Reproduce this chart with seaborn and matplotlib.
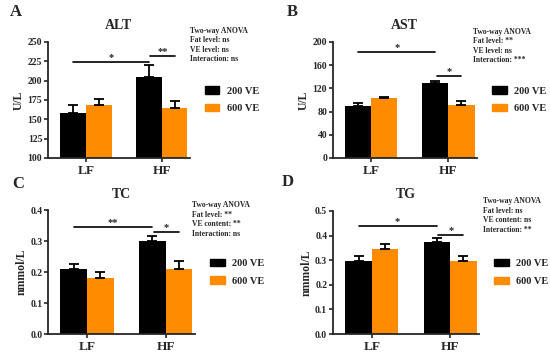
import numpy as np
import pandas as pd
import seaborn as sns
import matplotlib.pyplot as plt

# diet groups and VE dose
diets = ["LF", "HF"]
doses = ["200 VE", "600 VE"]

# ALT (U/L)
alt_200 = [158, 205]
alt_600 = [169, 164]
alt_200_err = [10, 15]
alt_600_err = [7, 9]

# AST (U/L)
ast_200 = [89, 129]
ast_600 = [103, 92]
ast_200_err = [6, 4]
ast_600_err = [2, 7]

# TC (nmmol/L)
tc_200 = [0.21, 0.302]
tc_600 = [0.18, 0.21]
tc_200_err = [0.017, 0.015]
tc_600_err = [0.02, 0.025]

# TG (nmmol/L)
tg_200 = [0.295, 0.373]
tg_600 = [0.345, 0.297]
tg_200_err = [0.023, 0.017]
tg_600_err = [0.02, 0.021]

anova_alt = "Two-way ANOVA\nFat level: ns\nVE level: ns\nInteraction: ns"
anova_ast = "Two-way ANOVA\nFat level: **\nVE level: ns\nInteraction: ***"
anova_tc = "Two-way ANOVA\nFat level: **\nVE content: **\nInteraction: ns"
anova_tg = "Two-way ANOVA\nFat level: ns\nVE content: ns\nInteraction: **"

sns.set_style("ticks")
plt.rcParams["font.family"] = ["Liberation Serif", "DejaVu Serif"]
plt.rcParams["font.weight"] = "bold"
plt.rcParams["axes.labelweight"] = "bold"
plt.rcParams["axes.titleweight"] = "bold"

palette = {"200 VE": "black", "600 VE": "#FF8C00"}


def draw_panel(ax, v200, v600, e200, e600, title, ylabel, ylim, yticks, fmt,
               anova, anova_xy, sig_long, sig_short):
    df = pd.DataFrame({
        "diet": diets * 2,
        "dose": [doses[0]] * 2 + [doses[1]] * 2,
        "value": v200 + v600,
    })
    sns.barplot(data=df, x="diet", y="value", hue="dose", order=diets,
                hue_order=doses, palette=palette, width=0.68, errorbar=None,
                saturation=1, legend=False, linewidth=0, ax=ax)
    # one-sided SEM bars
    centers = {}
    for cont, errs, dose in zip(ax.containers, [e200, e600], doses):
        xs = [b.get_x() + b.get_width() / 2 for b in cont]
        hs = [b.get_height() for b in cont]
        centers[dose] = xs
        ax.errorbar(xs, hs, yerr=[np.zeros(len(errs)), errs], fmt="none",
                    ecolor="black", elinewidth=1.3, capsize=3.4, capthick=1.3)

    # significance lines
    y_long, star_long = sig_long
    y_short, star_short = sig_short
    x0, x1 = centers["200 VE"][0], centers["200 VE"][1]
    ax.plot([x0, x1], [y_long, y_long], color="black", lw=1.2, clip_on=False)
    ax.text((x0 + x1) / 2, y_long, star_long, ha="center", va="bottom",
            fontsize=7.5)
    x2, x3 = centers["200 VE"][1] + 0.02, centers["600 VE"][1]
    ax.plot([x2, x3], [y_short, y_short], color="black", lw=1.2, clip_on=False)
    ax.text((x2 + x3) / 2, y_short, star_short, ha="center", va="bottom",
            fontsize=7.5)

    ax.set_xlim(-0.5, 1.37)
    ax.set_ylim(*ylim)
    ax.set_yticks(yticks)
    ax.set_yticklabels([fmt.format(t) for t in yticks], fontsize=7)
    ax.tick_params(axis="x", labelsize=9.5, length=3, width=1.2, pad=2)
    ax.tick_params(axis="y", length=3, width=1.2, pad=1)
    ax.set_xlabel("")
    ax.set_ylabel(ylabel, fontsize=8.5, labelpad=2)
    ax.set_title(title, fontsize=10, pad=9)
    for s in ["left", "bottom"]:
        ax.spines[s].set_linewidth(1.3)
    sns.despine(ax=ax)

    ax.text(anova_xy[0], anova_xy[1], anova, transform=ax.transAxes,
            fontsize=5.5, va="top", ha="left", linespacing=1.25)
    handles = [plt.Rectangle((0, 0), 1, 1, color=palette[d]) for d in doses]
    ax.legend(handles, doses, loc="center left", bbox_to_anchor=(1.04, 0.5),
              frameon=False, fontsize=7.5, handlelength=1.4, handleheight=0.7,
              labelspacing=0.8, handletextpad=0.7)


fig = plt.figure(figsize=(5.5, 3.55), dpi=100)
axA = fig.add_axes([0.087, 0.555, 0.258, 0.327])
axB = fig.add_axes([0.605, 0.555, 0.262, 0.327])
axC = fig.add_axes([0.087, 0.059, 0.267, 0.349])
axD = fig.add_axes([0.605, 0.059, 0.266, 0.347])

draw_panel(axA, alt_200, alt_600, alt_200_err, alt_600_err, "ALT", "U/L",
           (100, 250), [100, 125, 150, 175, 200, 225, 250], "{:.0f}",
           anova_alt, (1.0, 1.13), (224, "*"), (232, "**"))
draw_panel(axB, ast_200, ast_600, ast_200_err, ast_600_err, "AST", "U/L",
           (0, 200), [0, 40, 80, 120, 160, 200], "{:.0f}",
           anova_ast, (0.97, 1.12), (183, "*"), (141, "*"))
draw_panel(axC, tc_200, tc_600, tc_200_err, tc_600_err, "TC", "nmmol/L",
           (0, 0.4), [0.0, 0.1, 0.2, 0.3, 0.4], "{:.1f}",
           anova_tc, (0.98, 1.07), (0.345, "**"), (0.329, "*"))
draw_panel(axD, tg_200, tg_600, tg_200_err, tg_600_err, "TG", "nmmol/L",
           (0, 0.5), [0.0, 0.1, 0.2, 0.3, 0.4, 0.5], "{:.1f}",
           anova_tg, (1.03, 1.11), (0.437, "*"), (0.404, "*"))

for label, (x, y) in zip("ABCD", [(10, 12), (287, 12), (12, 184), (282, 182)]):
    fig.text(x / 550, 1 - y / 355, label, fontsize=12, fontweight="bold",
             ha="left", va="center")

fig.savefig("out.png", dpi=100)
